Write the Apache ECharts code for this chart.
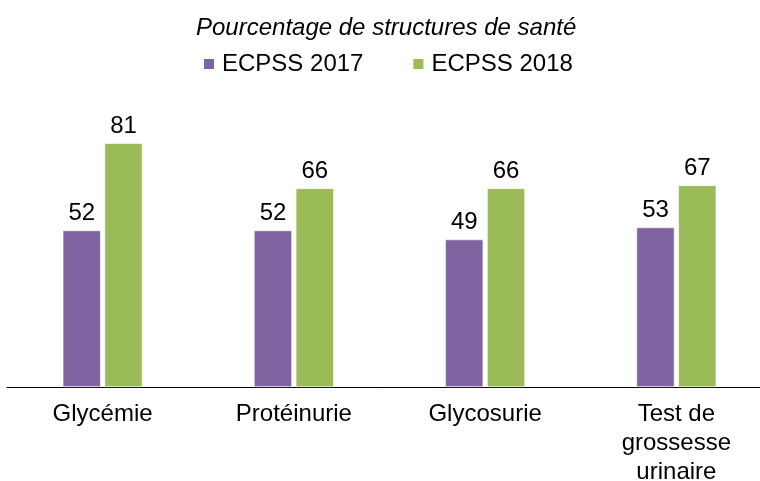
<!DOCTYPE html>
<html>
<head>
<meta charset="utf-8">
<script src="https://cdn.jsdelivr.net/npm/echarts@6/dist/echarts.min.js"></script>
<style>
  html, body { margin: 0; padding: 0; background: #fff; }
  #chart { width: 760px; height: 481px; }
</style>
</head>
<body>
<div id="chart"></div>
<script>
const categories = ['Glycémie', 'Protéinurie', 'Glycosurie', 'Test de\ngrossesse\nurinaire']
const values2017 = [52, 52, 49, 53]
const values2018 = [81, 66, 66, 67]
const seriesNames = ['ECPSS 2017', 'ECPSS 2018']

const FONT = 'Liberation Sans, Arial, sans-serif'

const chart = echarts.init(document.getElementById('chart'))
chart.setOption({
  animation: false,
  backgroundColor: '#fff',
  title: {
    text: 'Pourcentage de structures de santé',
    left: 191, top: 11,
    textStyle: { fontFamily: FONT, fontSize: 24, fontStyle: 'italic', fontWeight: 'normal', color: '#000' }
  },
  legend: {
    data: seriesNames, top: 47, left: 197,
    itemWidth: 12, itemHeight: 12, itemGap: 48, icon: 'rect',
    textStyle: { fontFamily: FONT, fontSize: 24, color: '#000', padding: [0, 0, 0, 2] }
  },
  grid: { left: 7, width: 765, top: 86, height: 301, outerBoundsMode: 'none' },
  xAxis: {
    type: 'category', data: categories,
    axisLine: { lineStyle: { color: '#000', width: 1 } },
    axisTick: { show: false },
    axisLabel: { fontFamily: FONT, fontSize: 24, color: '#000', margin: 13, lineHeight: 29, interval: 0 }
  },
  yAxis: { type: 'value', min: 0, max: 100, show: false },
  series: [
    {
      name: seriesNames[0], type: 'bar', data: values2017, barWidth: 38, barGap: '10%',
      itemStyle: { color: '#8064A2', borderColor: '#fff', borderWidth: 0.6 },
      label: { show: true, position: 'top', distance: 5, fontFamily: FONT, fontSize: 24, color: '#000' }
    },
    {
      name: seriesNames[1], type: 'bar', data: values2018, barWidth: 38,
      itemStyle: { color: '#9BBB59', borderColor: '#fff', borderWidth: 0.6 },
      label: { show: true, position: 'top', distance: 5, fontFamily: FONT, fontSize: 24, color: '#000' }
    }
  ]
})
</script>
</body>
</html>
